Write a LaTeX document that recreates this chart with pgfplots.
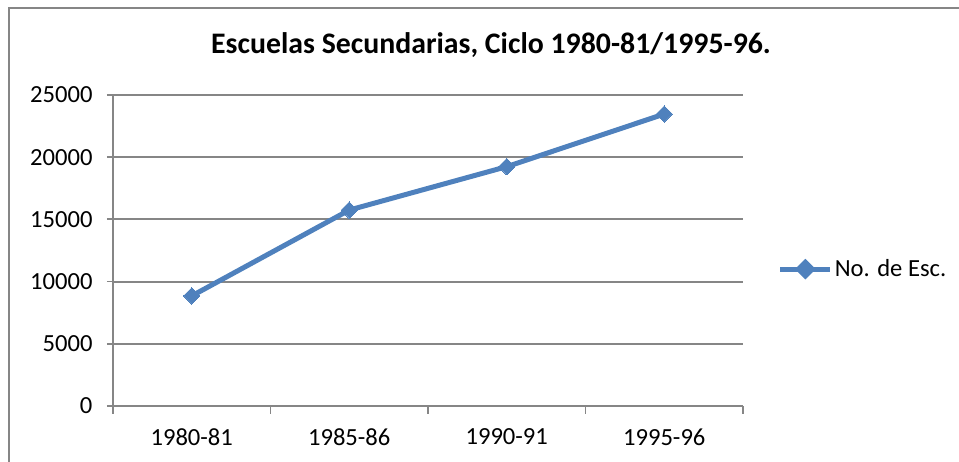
\documentclass[border=0pt]{standalone}
\usepackage{pgfplots}
\pgfplotsset{compat=1.18}
\usepackage{fontspec}
\setmainfont{Carlito}
\definecolor{exblue}{RGB}{79,129,189}
\definecolor{exgrid}{RGB}{134,134,134}
\begin{document}
\begin{tikzpicture}[x=1pt,y=1pt]
\path[use as bounding box] (0,0) rectangle (959,462);
\draw[exgrid, line width=2pt] (9,-10) -- (9,454) -- (970,454);
\node[font=\fontsize{29.8}{34}\selectfont\bfseries] at (491,417) {Escuelas Secundarias, Ciclo 1980-81/1995-96.};
\begin{axis}[
  at={(113pt,56pt)}, anchor=south west,
  width=630pt, height=311pt, scale only axis,
  xmin=-0.5, xmax=3.5, ymin=0, ymax=25000,
  axis lines=left, axis line style={-, exgrid, line width=2pt},
  xtick={0,1,2,3}, xticklabels={1980-81,1985-86,1990-91,1995-96},
  minor xtick={-0.5,0.5,1.5,2.5,3.5},
  ytick={0,5000,10000,15000,20000,25000},
  ymajorgrids, major grid style={exgrid, line width=1.9pt},
  tick align=outside, tick style={exgrid, line width=1.8pt},
  major x tick style={draw=none},
  minor tick length=8pt, major tick length=6pt,
  ticklabel style={font=\fontsize{24.6}{29}\selectfont, text=black},
  /pgf/number format/assume math mode=true,
  scaled y ticks=false,
  yticklabel style={/pgf/number format/1000 sep={}, xshift=-11pt},
  xticklabel style={yshift=-13pt},
  clip=false,
  legend style={at={(1.055,0.44)}, anchor=west, draw=none, fill=none, inner sep=0pt,
    font=\fontsize{24.6}{29}\selectfont, cells={anchor=west}},
  legend image code/.code={
    \draw[exblue, line width=5pt] (0pt,0pt) -- (50pt,0pt);
    \fill[exblue] (25pt,0pt) ++(0,6.8pt) -- ++(6.8pt,-6.8pt) -- ++(-6.8pt,-6.8pt) -- ++(-6.8pt,6.8pt) -- cycle;
  },
]
\addplot[exblue, line width=5pt, mark=square*, mark size=5.8pt,
  mark options={rotate=45, solid, fill=exblue, draw=exblue, line width=0pt}]
  coordinates {(0,8850) (1,15750) (2,19240) (3,23470)};
\addlegendentry{No. de Esc.}
\end{axis}
\end{tikzpicture}
\end{document}
